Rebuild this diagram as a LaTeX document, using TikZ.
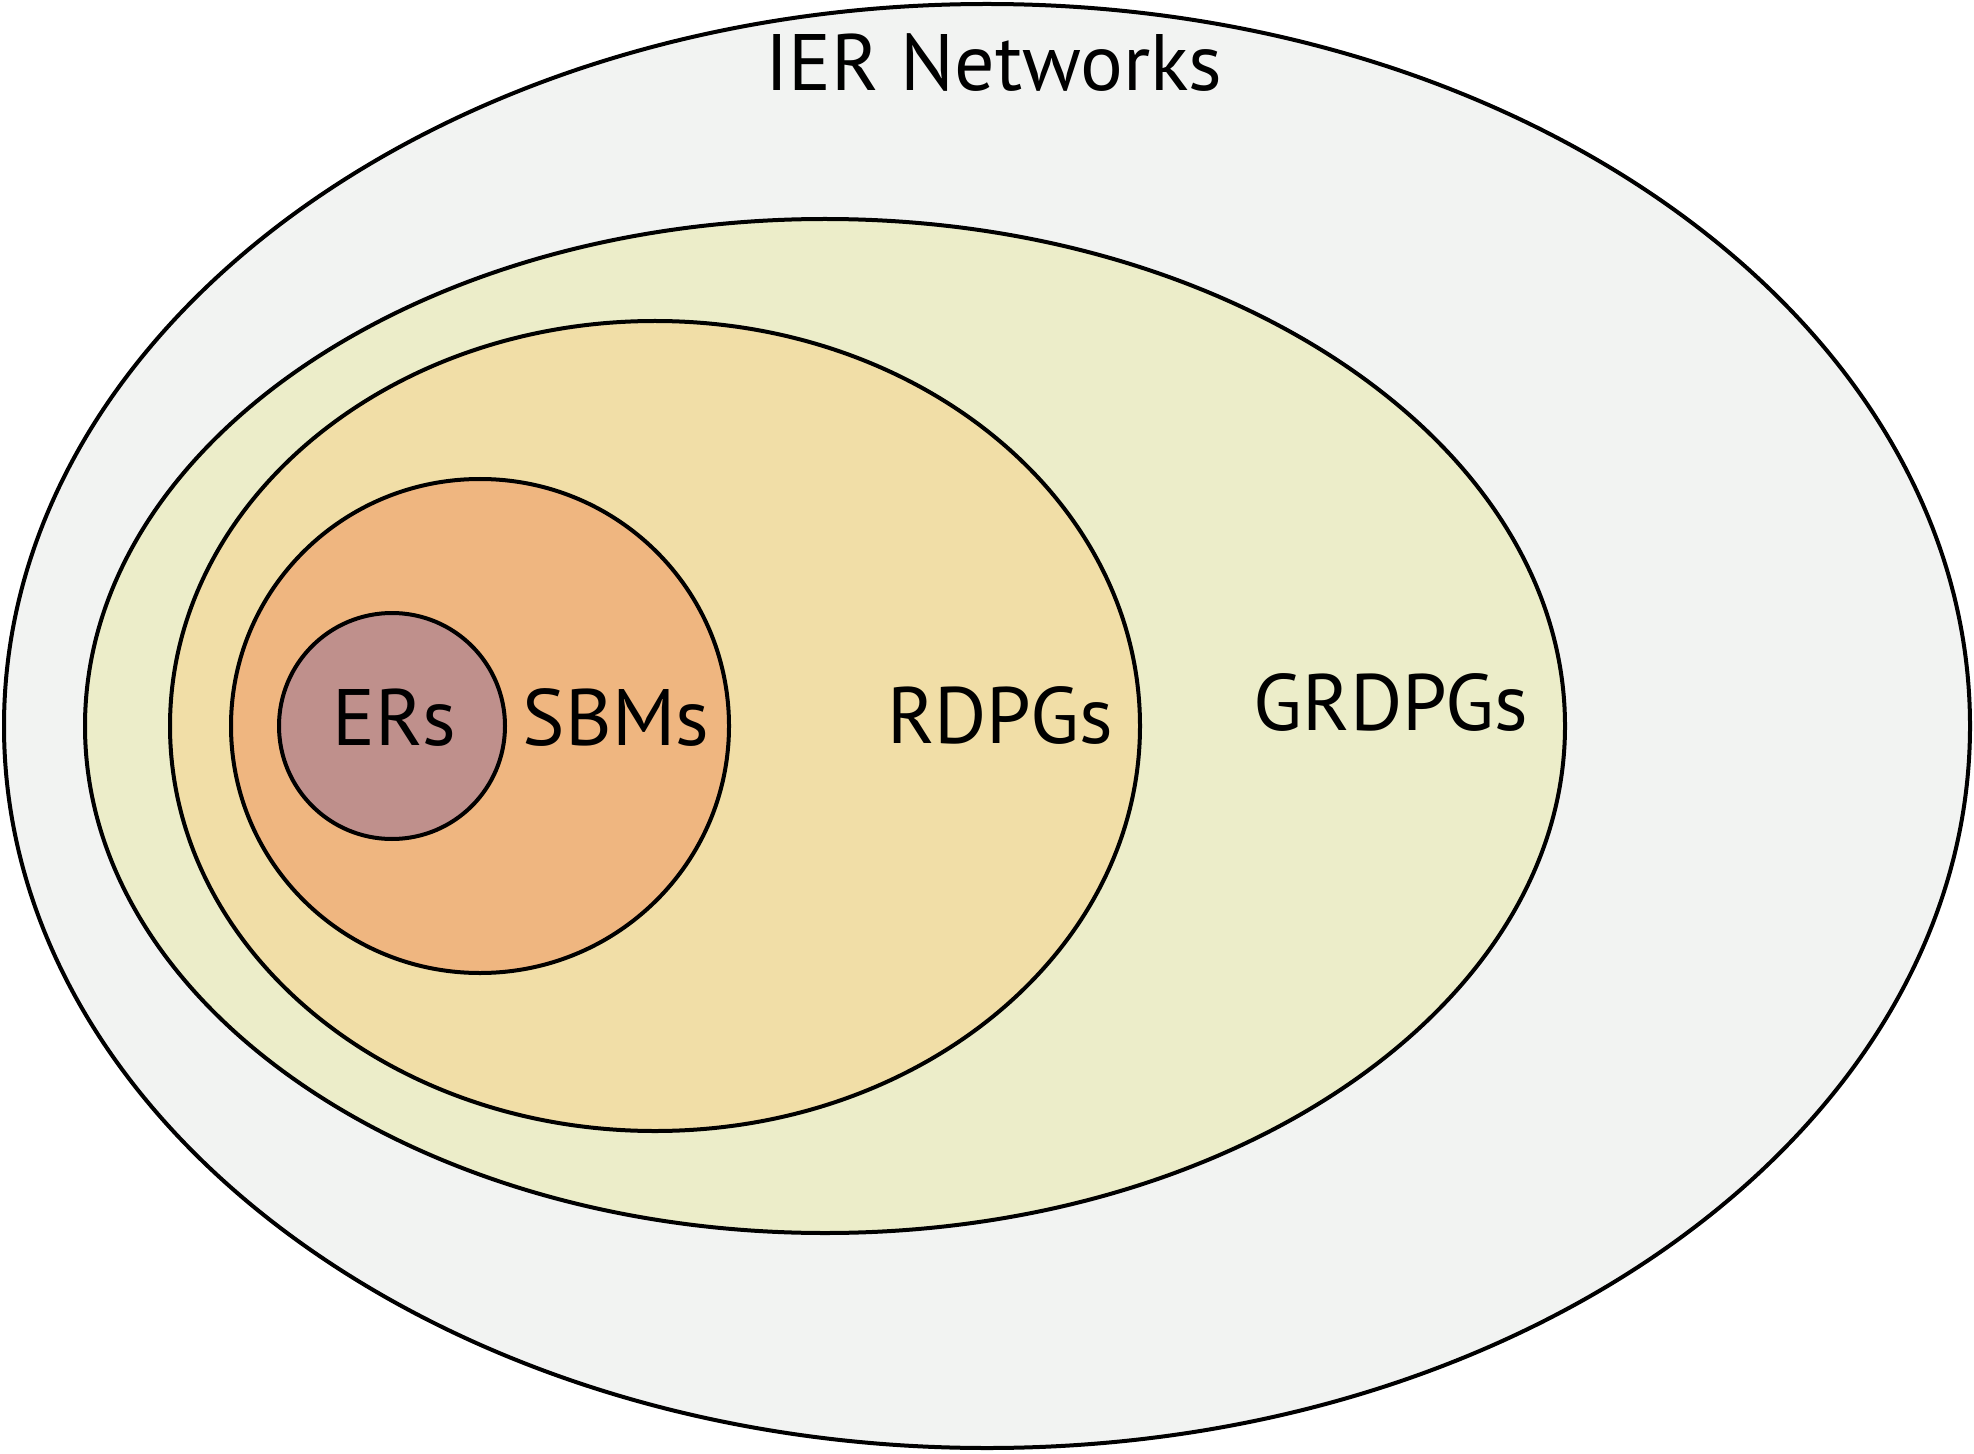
\documentclass[tikz,border=0pt]{standalone}
\usepackage{fontspec}
\setmainfont{PT Sans}
\definecolor{cIER}{HTML}{F2F3F2}
\definecolor{cGR}{HTML}{ECEDC9}
\definecolor{cRD}{HTML}{F1DEA7}
\definecolor{cSBM}{HTML}{EFB680}
\definecolor{cER}{HTML}{BF908C}
\tikzset{
  setshape/.style={draw=black, line width=2pt},
  lbl/.style={anchor=base, inner sep=0pt, font=\fontsize{40}{40}\selectfont}
}
\begin{document}
\begin{tikzpicture}[x=0.5pt,y=-0.5pt]
\useasboundingbox (0,0) rectangle (1974,1454);
\path[setshape, fill=cIER] (987,726) ellipse [x radius=983, y radius=722];
\path[setshape, fill=cGR] (825,726) ellipse [x radius=740, y radius=507];
\path[setshape, fill=cRD] (655,726) ellipse [x radius=485, y radius=405];
\path[setshape, fill=cSBM] (480,726) ellipse [x radius=249, y radius=247];
\path[setshape, fill=cER] (392,726) circle [radius=113];
\node[lbl] (ier) at (994,91) {IER Networks};
\node[lbl] (er) at (394,745) {ERs};
\node[lbl] (sbm) at (616,745) {SBMs};
\node[lbl] (rd) at (1000,743) {RDPGs};
\node[lbl] (gr) at (1391,730) {GRDPGs};
\end{tikzpicture}
\end{document}
